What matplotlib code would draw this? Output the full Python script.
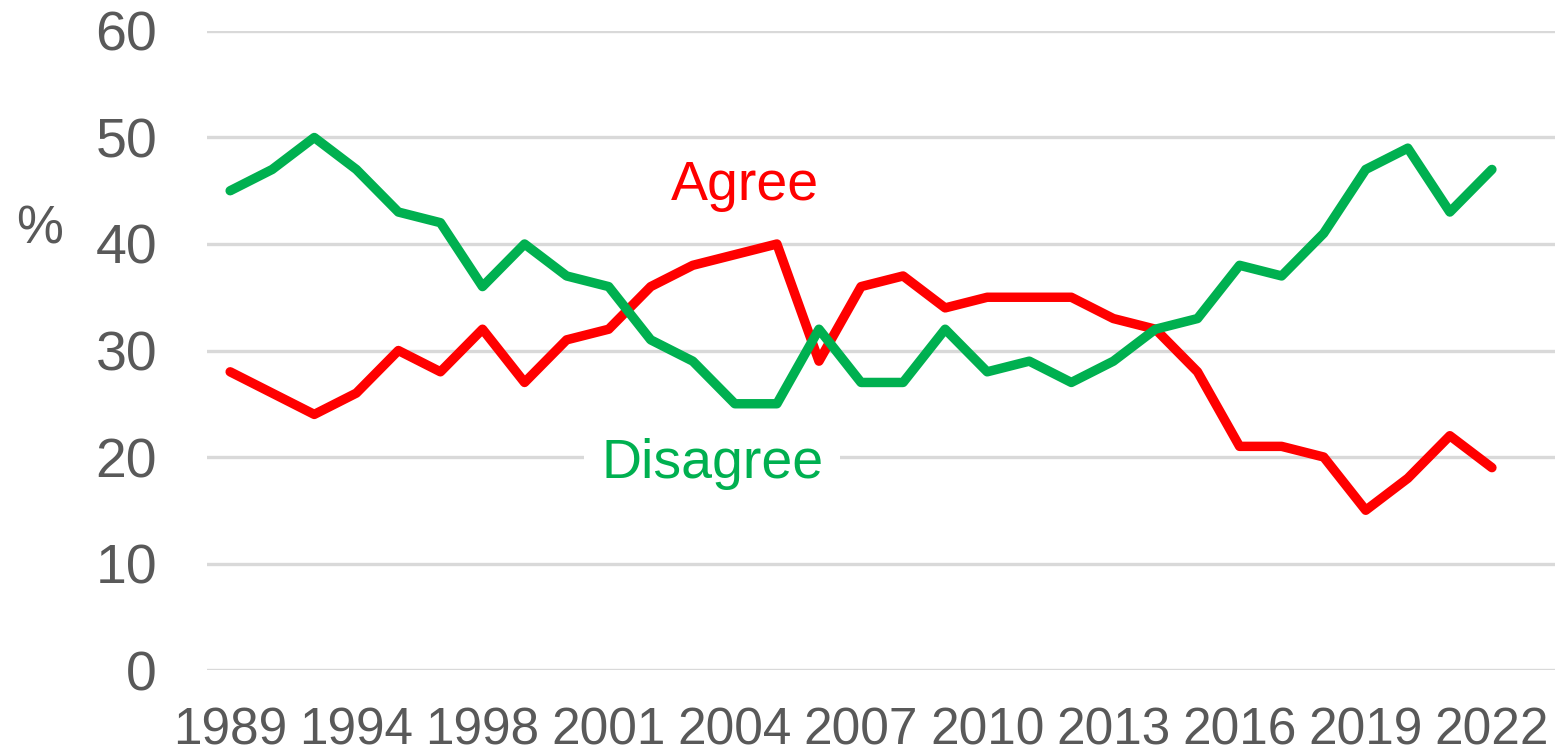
import matplotlib.pyplot as plt

plt.rcParams['font.family'] = ['Liberation Sans', 'DejaVu Sans']

years = [1989, 1990, 1991, 1994, 1995, 1996, 1998, 1999, 2000, 2001, 2002,
         2003, 2004, 2005, 2006, 2007, 2008, 2009, 2010, 2011, 2012, 2013,
         2014, 2015, 2016, 2017, 2018, 2019, 2020, 2021, 2022]
agree = [28, 26, 24, 26, 30, 28, 32, 27, 31, 32, 36, 38, 39, 40, 29, 36,
         37, 34, 35, 35, 35, 33, 32, 28, 21, 21, 20, 15, 18, 22, 19]
disagree = [45, 47, 50, 47, 43, 42, 36, 40, 37, 36, 31, 29, 25, 25, 32, 27,
            27, 32, 28, 29, 27, 29, 32, 33, 38, 37, 41, 47, 49, 43, 47]

GREY = '#595959'
RED = '#ff0000'
GREEN = '#00b050'

fig = plt.figure(figsize=(15.6, 7.52), dpi=100)
ax = fig.add_axes([0.1327, 0.109, 0.8641, 0.8498])

xs = list(range(len(years)))
ax.plot(xs, agree, color=RED, lw=6.8, solid_capstyle='round',
        solid_joinstyle='round', zorder=3)
ax.plot(xs, disagree, color=GREEN, lw=6.8, solid_capstyle='round',
        solid_joinstyle='round', zorder=3)

ax.set_ylim(0, 60)
ax.set_xlim(-0.55, 31.5)
ax.set_yticks(range(0, 61, 10))
ax.set_xticks(xs[::3])
ax.set_xticklabels([str(y) for y in years[::3]])

ax.grid(axis='y', color='#d9d9d9', lw=2.4, zorder=0)
ax.set_axisbelow(True)
for s in ax.spines.values():
    s.set_visible(False)
ax.tick_params(axis='both', length=0, colors=GREY)
ax.tick_params(axis='y', labelsize=40, pad=36)
ax.tick_params(axis='x', labelsize=37, pad=26)

ax.text(12.24, 44.1, 'Agree', color=RED, fontsize=40, ha='center',
        va='baseline', zorder=4)
ax.text(11.46, 18.0, 'Disagree', color=GREEN, fontsize=40, ha='center',
        va='baseline', zorder=4,
        bbox=dict(boxstyle='square,pad=0.3', fc='white', ec='none'))

fig.text(40 / 1560, 1 - 230 / 752, '%', color=GREY, fontsize=38,
         ha='center', va='center')

fig.savefig('out.png', dpi=100)
